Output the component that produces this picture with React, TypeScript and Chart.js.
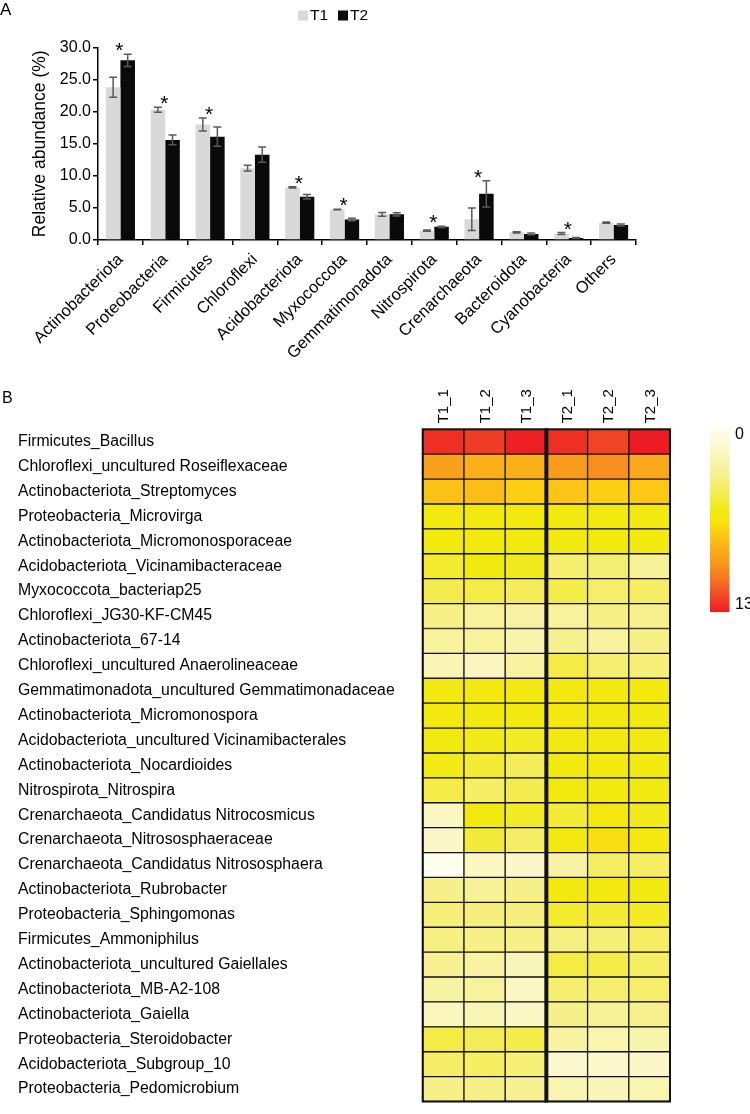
import React, { useEffect, useRef } from "react";
import { Chart, registerables } from "chart.js";

Chart.register(...registerables);

const FONT = "'Liberation Sans', Arial, sans-serif";

// ---------- Panel A data ----------
const phyla = [
  "Actinobacteriota", "Proteobacteria", "Firmicutes", "Chloroflexi",
  "Acidobacteriota", "Myxococcota", "Gemmatimonadota", "Nitrospirota",
  "Crenarchaeota", "Bacteroidota", "Cyanobacteria", "Others",
];
const t1Mean = [23.8, 20.3, 18.0, 11.2, 8.2, 4.75, 4.0, 1.45, 3.25, 1.2, 1.0, 2.7];
const t1Err = [1.55, 0.4, 1.0, 0.45, 0.08, 0.05, 0.3, 0.1, 1.75, 0.1, 0.15, 0.1];
const t2Mean = [28.0, 15.6, 16.1, 13.3, 6.75, 3.2, 4.0, 2.05, 7.2, 0.95, 0.3, 2.35];
const t2Err = [0.95, 0.75, 1.5, 1.2, 0.35, 0.2, 0.25, 0.1, 2.05, 0.15, 0.08, 0.15];
const significant = [true, true, true, false, true, true, false, true, true, false, true, false];
const groupNames = ["T1", "T2"];
const yMin = 0;
const yMax = 30;
const yStep = 5;

// ---------- Panel B data ----------
const genera = [
  "Firmicutes_Bacillus",
  "Chloroflexi_uncultured Roseiflexaceae",
  "Actinobacteriota_Streptomyces",
  "Proteobacteria_Microvirga",
  "Actinobacteriota_Micromonosporaceae",
  "Acidobacteriota_Vicinamibacteraceae",
  "Myxococcota_bacteriap25",
  "Chloroflexi_JG30-KF-CM45",
  "Actinobacteriota_67-14",
  "Chloroflexi_uncultured Anaerolineaceae",
  "Gemmatimonadota_uncultured Gemmatimonadaceae",
  "Actinobacteriota_Micromonospora",
  "Acidobacteriota_uncultured Vicinamibacterales",
  "Actinobacteriota_Nocardioides",
  "Nitrospirota_Nitrospira",
  "Crenarchaeota_Candidatus Nitrocosmicus",
  "Crenarchaeota_Nitrososphaeraceae",
  "Crenarchaeota_Candidatus Nitrososphaera",
  "Actinobacteriota_Rubrobacter",
  "Proteobacteria_Sphingomonas",
  "Firmicutes_Ammoniphilus",
  "Actinobacteriota_uncultured Gaiellales",
  "Actinobacteriota_MB-A2-108",
  "Actinobacteriota_Gaiella",
  "Proteobacteria_Steroidobacter",
  "Acidobacteriota_Subgroup_10",
  "Proteobacteria_Pedomicrobium",
];
const samples = ["T1_1", "T1_2", "T1_3", "T2_1", "T2_2", "T2_3"];
const T1_1 = [12.5, 9.2, 7.9, 6.1, 6.0, 5.4, 4.8, 3.6, 3.1, 2.3, 6.2, 6.1, 6.0, 5.9, 4.9, 1.9, 1.7, 0.2, 3.5, 3.9, 3.7, 3.3, 2.8, 2.0, 5.0, 4.3, 3.6];
const T1_2 = [12.2, 8.6, 8.0, 6.0, 6.0, 6.0, 5.0, 3.1, 3.1, 2.0, 6.1, 6.0, 5.8, 5.3, 4.3, 6.0, 5.2, 1.9, 3.2, 3.8, 3.6, 2.9, 3.1, 2.3, 4.7, 4.4, 3.6];
const T1_3 = [12.9, 8.6, 7.4, 6.1, 6.0, 5.7, 4.6, 2.8, 2.6, 3.0, 6.1, 6.0, 5.6, 4.6, 4.8, 5.6, 4.3, 1.7, 3.5, 3.8, 3.6, 2.2, 1.9, 1.8, 4.9, 3.9, 3.3];
const T2_1 = [12.5, 9.4, 7.8, 6.0, 6.1, 4.1, 4.9, 3.1, 3.4, 5.0, 6.2, 6.1, 6.0, 6.0, 6.0, 5.3, 6.1, 2.8, 6.1, 5.4, 3.7, 5.0, 4.1, 3.5, 2.9, 1.5, 2.4];
const T2_2 = [12.0, 10.0, 7.4, 6.0, 6.0, 4.0, 4.2, 3.6, 2.9, 4.1, 6.1, 6.0, 6.0, 6.0, 6.0, 6.3, 6.9, 4.4, 6.1, 5.3, 3.9, 4.9, 4.1, 3.2, 2.5, 1.6, 2.2];
const T2_3 = [13.0, 8.9, 7.7, 6.1, 6.1, 3.2, 4.4, 3.4, 3.6, 3.9, 6.1, 6.0, 6.0, 6.0, 6.0, 5.8, 6.1, 4.4, 6.0, 5.6, 4.4, 4.4, 4.2, 3.4, 2.6, 1.7, 2.5];
const sampleValues = [T1_1, T1_2, T1_3, T2_1, T2_2, T2_3];
const colorMin = 0;
const colorMax = 13;
const colorTickLabels = ["0", "13"];

// ---------- styling ----------
const cmapStops: [number, string][] = [
  [0.0, "#fffff4"],
  [0.12, "#fbf8cc"],
  [0.25, "#f7f196"],
  [0.36, "#f4ec55"],
  [0.46, "#f2ea0f"],
  [0.52, "#f7e20f"],
  [0.58, "#fdcb13"],
  [0.65, "#fbb217"],
  [0.76, "#f7921d"],
  [0.88, "#f15a24"],
  [1.0, "#ed1c24"],
];

function hexToRgb(h: string): number[] {
  const n = parseInt(h.slice(1), 16);
  return [(n >> 16) & 255, (n >> 8) & 255, n & 255];
}

function colorAt(t: number): string {
  const tt = Math.max(0, Math.min(1, t));
  for (let i = 0; i < cmapStops.length - 1; i++) {
    const [t0, c0] = cmapStops[i];
    const [t1, c1] = cmapStops[i + 1];
    if (tt >= t0 && tt <= t1) {
      const f = (tt - t0) / (t1 - t0);
      const a = hexToRgb(c0);
      const b = hexToRgb(c1);
      const r = a.map((v, k) => Math.round(v + (b[k] - v) * f));
      return `rgb(${r[0]},${r[1]},${r[2]})`;
    }
  }
  return cmapStops[cmapStops.length - 1][1];
}

function colorFor(v: number): string {
  return colorAt((v - colorMin) / (colorMax - colorMin));
}

const panelAPlugin = {
  id: "panelA",
  afterDatasetsDraw(chart: any) {
    const { ctx } = chart;
    const y = chart.scales.y;
    const x = chart.scales.x;
    const means = [t1Mean, t2Mean];
    const errs = [t1Err, t2Err];
    ctx.save();
    ctx.strokeStyle = "#5a5a5a";
    ctx.lineWidth = 1.5;
    means.forEach((m, di) => {
      const meta = chart.getDatasetMeta(di);
      meta.data.forEach((bar: any, i: number) => {
        const top = y.getPixelForValue(m[i] + errs[di][i]);
        const bot = y.getPixelForValue(m[i] - errs[di][i]);
        const cx = bar.x;
        ctx.beginPath();
        ctx.moveTo(cx, top);
        ctx.lineTo(cx, bot);
        ctx.moveTo(cx - 4, top);
        ctx.lineTo(cx + 4, top);
        ctx.moveTo(cx - 4, bot);
        ctx.lineTo(cx + 4, bot);
        ctx.stroke();
      });
    });
    // significance asterisks
    ctx.fillStyle = "#000";
    const fs = 21;
    ctx.font = `${fs}px ${FONT}`;
    ctx.textAlign = "center";
    ctx.textBaseline = "alphabetic";
    significant.forEach((s, i) => {
      if (!s) return;
      const cx = x.getPixelForValue(i) - 1;
      const topVal = Math.max(t1Mean[i] + t1Err[i], t2Mean[i] + t2Err[i]);
      const cy = y.getPixelForValue(topVal) - 9;
      ctx.fillText("*", cx, cy + 0.57 * fs);
    });
    ctx.restore();
  },
  afterDraw(chart: any) {
    const { ctx } = chart;
    ctx.save();
    ctx.fillStyle = "#000";
    ctx.font = `17px ${FONT}`;
    ctx.textAlign = "left";
    ctx.textBaseline = "alphabetic";
    ctx.fillText("A", 0, 15);
    // legend
    const colors = ["#d9d9d9", "#0a0a0a"];
    const xs = [298, 338];
    ctx.font = `15.5px ${FONT}`;
    ctx.textBaseline = "middle";
    groupNames.forEach((g, k) => {
      ctx.fillStyle = colors[k];
      ctx.fillRect(xs[k], 10.5, 10, 10);
      ctx.fillStyle = "#000";
      ctx.fillText(g, xs[k] + 12, 16);
    });
    ctx.restore();
  },
};

const panelBPlugin = {
  id: "panelB",
  afterDatasetsDraw(chart: any) {
    const { ctx, chartArea } = chart;
    const x = chart.scales.x;
    ctx.save();
    ctx.strokeStyle = "#111";
    ctx.lineWidth = 2;
    ctx.strokeRect(chartArea.left, chartArea.top, chartArea.right - chartArea.left, chartArea.bottom - chartArea.top);
    const sx = x.getPixelForValue(3);
    ctx.lineWidth = 4;
    ctx.beginPath();
    ctx.moveTo(sx, chartArea.top - 1);
    ctx.lineTo(sx, chartArea.bottom + 1);
    ctx.stroke();
    ctx.restore();
  },
  afterDraw(chart: any) {
    const { ctx, chartArea } = chart;
    const x = chart.scales.x;
    ctx.save();
    ctx.fillStyle = "#000";
    ctx.font = `16px ${FONT}`;
    ctx.textAlign = "left";
    ctx.textBaseline = "alphabetic";
    ctx.fillText("B", 2, 33);
    // column headers
    ctx.font = `15px ${FONT}`;
    ctx.textBaseline = "middle";
    samples.forEach((s, j) => {
      const cx = x.getPixelForValue(j + 0.5);
      ctx.save();
      ctx.translate(cx + 1, chartArea.top - 6);
      ctx.rotate(-Math.PI / 2);
      ctx.fillText(s, 0, 0);
      ctx.restore();
    });
    // colour bar
    const bx = 710, bw = 19.5, by = 55, bh = 187;
    const grad = ctx.createLinearGradient(0, by, 0, by + bh);
    for (let i = 0; i <= 40; i++) {
      const t = i / 40;
      grad.addColorStop(t, colorAt(t));
    }
    ctx.fillStyle = grad;
    ctx.fillRect(bx, by, bw, bh);
    ctx.fillStyle = "#000";
    ctx.font = `16px ${FONT}`;
    ctx.textBaseline = "middle";
    ctx.fillText(colorTickLabels[0], 735, 64.5);
    ctx.fillText(colorTickLabels[1], 735, 235);
    ctx.restore();
  },
};

export default function App() {
  const refA = useRef<HTMLCanvasElement>(null);
  const refB = useRef<HTMLCanvasElement>(null);

  useEffect(() => {
    const chartA = new Chart(refA.current as HTMLCanvasElement, {
      type: "bar",
      data: {
        labels: phyla,
        datasets: [
          { label: groupNames[0], data: t1Mean, backgroundColor: "#d9d9d9", borderWidth: 0 },
          { label: groupNames[1], data: t2Mean, backgroundColor: "#0a0a0a", borderWidth: 0 },
        ],
      },
      options: {
        responsive: false,
        animation: false,
        devicePixelRatio: 1,
        datasets: { bar: { barPercentage: 1, categoryPercentage: 0.65 } },
        layout: { padding: { left: 0, top: 47.5, right: 114, bottom: 10 } },
        plugins: { legend: { display: false }, tooltip: { enabled: false } },
        scales: {
          x: {
            grid: { display: true, drawOnChartArea: false, drawTicks: true, tickLength: 5, color: "#000", lineWidth: 1.5 },
            border: { display: true, color: "#000", width: 1.5 },
            ticks: {
              autoSkip: false,
              maxRotation: 45,
              minRotation: 45,
              padding: 5,
              color: "#000",
              font: { family: FONT, size: 16.5 },
            },
            afterFit: (s: any) => { s.height = 120; },
          },
          y: {
            min: yMin,
            max: yMax,
            grid: { display: true, drawOnChartArea: false, drawTicks: true, tickLength: 5, color: "#000", lineWidth: 1.5 },
            border: { display: true, color: "#000", width: 1.5 },
            ticks: {
              stepSize: yStep,
              padding: 2,
              color: "#000",
              font: { family: FONT, size: 16 },
              callback: (v: any) => Number(v).toFixed(1),
            },
            title: {
              display: true,
              text: "Relative abundance (%)",
              color: "#000",
              font: { family: FONT, size: 17.5 },
              padding: { top: 30, bottom: 0 },
            },
            afterFit: (s: any) => { s.width = 98; },
          },
        },
      },
      plugins: [panelAPlugin],
    } as any);

    const chartB = new Chart(refB.current as HTMLCanvasElement, {
      type: "bar",
      data: {
        labels: genera,
        datasets: samples.map((s, j) => ({
          label: s,
          data: genera.map(() => [j, j + 1]),
          backgroundColor: sampleValues[j].map(colorFor),
          borderColor: "#111",
          borderWidth: 1,
          borderSkipped: false,
          barPercentage: 1,
          categoryPercentage: 1,
          grouped: false,
        })),
      },
      options: {
        indexAxis: "y",
        responsive: false,
        animation: false,
        devicePixelRatio: 1,
        layout: { padding: { left: 18, top: 59.3, right: 80, bottom: 0.7 } },
        plugins: { legend: { display: false }, tooltip: { enabled: false } },
        scales: {
          x: {
            type: "linear",
            display: false,
            min: 0,
            max: samples.length,
          },
          y: {
            type: "category",
            grid: { display: false },
            border: { display: false },
            ticks: {
              autoSkip: false,
              crossAlign: "far",
              color: "#000",
              font: { family: FONT, size: 15.8 },
            },
            afterFit: (s: any) => { s.width = 404.7; },
          },
        },
      },
      plugins: [panelBPlugin],
    } as any);

    return () => {
      chartA.destroy();
      chartB.destroy();
    };
  }, []);

  return (
    <div style={{ position: "absolute", left: 0, top: 0, width: 750, height: 1114, background: "#fff" }}>
      <canvas
        ref={refA}
        width={750}
        height={370}
        style={{ position: "absolute", left: 0, top: 0, width: 750, height: 370 }}
      />
      <canvas
        ref={refB}
        width={750}
        height={744}
        style={{ position: "absolute", left: 0, top: 370, width: 750, height: 744 }}
      />
    </div>
  );
}
